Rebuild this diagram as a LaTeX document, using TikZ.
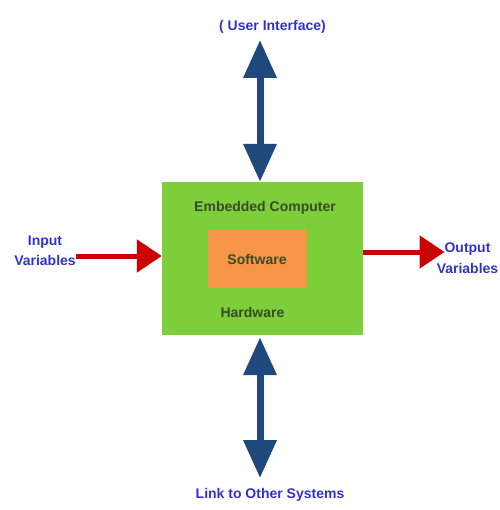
\documentclass[tikz,border=0pt]{standalone}
\usepackage{fontspec}
\setmainfont{Liberation Sans}
\usetikzlibrary{arrows.meta}
\definecolor{boxgreen}{RGB}{124,206,58}
\definecolor{boxorange}{RGB}{247,150,70}
\definecolor{arrowblue}{RGB}{31,73,125}
\definecolor{arrowred}{RGB}{204,0,0}
\definecolor{labelblue}{RGB}{51,51,204}
\definecolor{innertext}{RGB}{58,74,38}
\tikzset{
  outlabel/.style={inner sep=0pt, text=labelblue, font=\fontsize{14}{20.5}\selectfont\bfseries, align=center},
  inlabel/.style={inner sep=0pt, text=innertext, font=\fontsize{14}{17}\selectfont\bfseries, anchor=base},
  bluearrow/.style={draw=arrowblue, line width=7pt, {Triangle[length=38pt,width=32pt]}-{Triangle[length=38pt,width=32pt]}},
  redarrow/.style={draw=arrowred, line width=5pt, -{Triangle[length=25pt,width=32pt]}}
}
\begin{document}
\begin{tikzpicture}[x=1pt,y=-1pt]
\useasboundingbox (0,0) rectangle (499,510);
\fill[white] (0,0) rectangle (499,510);
% boxes
\node[fill=boxgreen, minimum width=201pt, minimum height=153pt, inner sep=0pt] (hw) at (262.5,258.5) {};
\node[fill=boxorange, minimum width=99pt, minimum height=58pt, inner sep=0pt] (sw) at (257.5,259) {};
% inner texts
\node[inlabel] (ec) at (265,212) {Embedded Computer};
\node[inlabel] (swl) at (257,264) {Software};
\node[inlabel] (hwl) at (252.5,317) {Hardware};
% outer labels
\node[outlabel, anchor=base] (ui) at (272.5,31) {( User Interface)};
\node[outlabel, anchor=base] (link) at (270,498) {Link to Other Systems};
\node[outlabel] (in) at (45,251) {Input\\Variables};
\node[outlabel] (out) at (467.5,258) {Output\\Variables};
% connectors
\coordinate (ut) at (260,40);
\coordinate (lb) at (260,478);
\draw[bluearrow] (ut) -- (ut |- hw.north);
\draw[bluearrow] ([yshift=-2pt]lb |- hw.south) -- (lb);
\draw[redarrow] ([yshift=-5pt]in.east) -- ([yshift=-5pt]in.east -| hw.west);
\draw[redarrow] ([yshift=6pt]out.west -| hw.east) -- ([yshift=6pt, xshift=8pt]out.west);
\end{tikzpicture}
\end{document}
